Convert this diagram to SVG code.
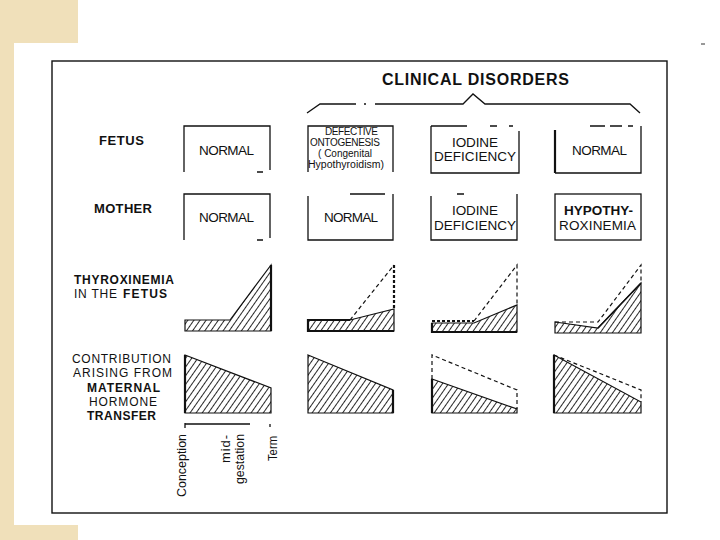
<svg xmlns="http://www.w3.org/2000/svg" width="720" height="540" viewBox="0 0 720 540">
<style>
  text { font-family: "Liberation Sans", Arial, sans-serif; fill: #111; }
  .lbl { font-size: 13px; font-weight: bold; }
  .lbs { font-size: 12px; }
  .b { font-weight: bold; }
  .box { font-size: 13.5px; }
  .sm { font-size: 10px; }
  .ax { font-size: 13px; }
  .edge { fill: none; stroke: #111; stroke-width: 1.3; }
  .thick { fill: none; stroke: #111; stroke-width: 2.2; }
  .dash { fill: none; stroke: #111; stroke-width: 1.2; stroke-dasharray: 4 3; }
  .dashT { fill: none; stroke: #111; stroke-width: 2.2; stroke-dasharray: 3 2; }
  .hatch { fill: url(#hatch); stroke: #111; stroke-width: 1.2; }
</style>
<defs>
  <pattern id="hatch" patternUnits="userSpaceOnUse" width="5" height="5" patternTransform="rotate(35)">
    <line x1="2.5" y1="0" x2="2.5" y2="5" stroke="#111" stroke-width="0.9"/>
  </pattern>
</defs>
<rect x="0" y="0" width="720" height="540" fill="#ffffff"/>
<g id="background" fill="#f0e0ba">
  <rect x="0" y="0" width="78" height="43"/>
  <rect x="0" y="0" width="14" height="540"/>
  <rect x="0" y="525" width="78" height="15"/>
</g>
<line x1="701" y1="44" x2="705" y2="44" stroke="#333" stroke-width="1"/>
<rect x="52" y="61" width="615" height="452" fill="none" stroke="#111" stroke-width="1.4"/>

<g id="title">
  <text x="382" y="85" font-size="16" font-weight="bold" textLength="187" lengthAdjust="spacing">CLINICAL DISORDERS</text>
</g>

<g id="connectors">
  <path class="edge" d="M307,113 L320,104 L356,104 M375,104 L463,104 L473,94 L485,104 L630,104 L640,113"/>
  <line x1="364" y1="104" x2="366" y2="104" stroke="#111" stroke-width="1.3"/>
  <path class="edge" d="M185,424 L250,424 M185,423 L185,428"/>
  <line x1="270" y1="424" x2="270" y2="427" stroke="#111" stroke-width="1.3"/>
</g>

<g id="label-fetus"><text class="lbl" x="99" y="145" textLength="45" lengthAdjust="spacing">FETUS</text></g>
<g id="label-mother"><text class="lbl" x="94" y="213" textLength="58" lengthAdjust="spacing">MOTHER</text></g>
<g id="label-thyroxinemia">
  <text class="lbs b" x="74" y="284" textLength="100" lengthAdjust="spacing">THYROXINEMIA</text>
  <text class="lbs" x="74" y="298" textLength="43" lengthAdjust="spacing">IN THE</text>
  <text class="lbs b" x="123" y="298" textLength="44" lengthAdjust="spacing">FETUS</text>
</g>
<g id="label-contribution">
  <text class="lbs" x="72" y="363" textLength="99" lengthAdjust="spacing">CONTRIBUTION</text>
  <text class="lbs" x="73" y="377" textLength="99" lengthAdjust="spacing">ARISING FROM</text>
  <text class="lbs b" x="87" y="391.5" textLength="73" lengthAdjust="spacing">MATERNAL</text>
  <text class="lbs" x="89" y="405.5" textLength="68" lengthAdjust="spacing">HORMONE</text>
  <text class="lbs b" x="87" y="420" textLength="69" lengthAdjust="spacing">TRANSFER</text>
</g>

<!-- Row 1: fetus -->
<g id="fetus-normal-1">
  <path class="edge" d="M184,172 L184,126 L270,126 L270,170 M257,172 L263,172"/>
  <text class="box" x="199" y="155" textLength="55" lengthAdjust="spacing">NORMAL</text>
</g>
<g id="fetus-defective">
  <path class="edge" d="M308,172 L308,126 L393,126 L393,172"/>
  <text class="sm" x="325" y="135" textLength="53" lengthAdjust="spacing">DEFECTIVE</text>
  <text class="sm" x="310" y="146" textLength="70" lengthAdjust="spacing">ONTOGENESIS</text>
  <text class="sm" x="318" y="157" textLength="54" lengthAdjust="spacing">( Congenital</text>
  <text class="sm" x="308" y="167.5" textLength="76" lengthAdjust="spacingAndGlyphs">Hypothyroidism)</text>
</g>
<g id="fetus-iodine">
  <path class="edge" d="M431,126 L467,126 M490,126 L497,126 M509,126 L513,126 M431,126 L431,173 L519,173 L519,131"/>
  <text class="box" x="452" y="147" font-size="13" textLength="46" lengthAdjust="spacing">IODINE</text>
  <text class="box" x="434" y="161" font-size="13" textLength="82" lengthAdjust="spacing">DEFICIENCY</text>
</g>
<g id="fetus-normal-4">
  <path class="edge" d="M590,126 L605,126 M610,126 L622,126 M628,126 L633,126 M641,126 L641,173 L555,173"/>
  <path class="thick" d="M555,130 L555,173"/>
  <text class="box" x="572" y="155" textLength="55" lengthAdjust="spacing">NORMAL</text>
</g>

<!-- Row 2: mother -->
<g id="mother-normal-1">
  <path class="edge" d="M184,240 L184,194 L270,194 L270,238 M257,240 L263,240"/>
  <text class="box" x="199" y="222" textLength="55" lengthAdjust="spacing">NORMAL</text>
</g>
<g id="mother-normal-2">
  <path class="edge" d="M350,194 L385,194 M308,196 L308,240 L393,240 L393,194"/>
  <text class="box" x="324" y="222" textLength="54" lengthAdjust="spacing">NORMAL</text>
</g>
<g id="mother-iodine">
  <path class="edge" d="M457,194 L464,194 M431,196 L431,240 L517,240 L517,194"/>
  <text class="box" x="452" y="215" font-size="13" textLength="46" lengthAdjust="spacing">IODINE</text>
  <text class="box" x="434" y="230" font-size="13" textLength="82" lengthAdjust="spacing">DEFICIENCY</text>
</g>
<g id="mother-hypothyroxinemia">
  <rect class="edge" x="555" y="194" width="86" height="46"/>
  <text class="box b" x="564" y="215" font-size="13" textLength="69" lengthAdjust="spacing">HYPOTHY-</text>
  <text class="box" x="559" y="230" font-size="13" textLength="77" lengthAdjust="spacing">ROXINEMIA</text>
</g>

<!-- Row 3: thyroxinemia graphs -->
<g id="thyro-1">
  <polygon class="hatch" points="185,320 230,320 271,265 271,331 185,331"/>
  <path class="thick" d="M271,265 L271,331"/>
</g>
<g id="thyro-2">
  <polygon class="hatch" points="308,320 350,320 394,309 394,331 308,331"/>
  <path class="thick" d="M350,320 L308,320 L308,331 L394,331"/>
  <path class="dash" d="M350,320 L394,265"/>
  <path class="dashT" d="M394,265 L394,309"/>
</g>
<g id="thyro-3">
  <polygon class="hatch" points="432,323 474,323 517,305 517,332 432,332"/>
  <path class="thick" d="M432,323 L432,332 L517,332"/>
  <path class="dashT" d="M432,321 L474,321"/>
  <path class="dash" d="M474,321 L517,265 L517,305"/>
</g>
<g id="thyro-4">
  <polygon class="hatch" points="555,322 598,328 641,283 641,333 555,333"/>
  <path class="dash" d="M555,322 L598,322 L641,265 L641,283"/>
  <path class="edge" d="M598,328 L641,283"/>
</g>

<!-- Row 4: maternal contribution graphs -->
<g id="contrib-1">
  <polygon class="hatch" points="185,355 271,388 271,413 185,413"/>
  <path class="thick" d="M185,355 L185,413"/>
</g>
<g id="contrib-2">
  <polygon class="hatch" points="308,355 393,390 393,413 308,413"/>
  <path class="thick" d="M393,390 L393,413"/>
</g>
<g id="contrib-3">
  <polygon class="hatch" points="432,379 517,409 517,413 432,413"/>
  <path class="thick" d="M432,379 L432,413"/>
  <path class="dash" d="M432,379 L432,355 L517,390 L517,409"/>
</g>
<g id="contrib-4">
  <polygon class="hatch" points="554,355 641,402 641,413 554,413"/>
  <path class="thick" d="M554,355 L554,413"/>
  <path class="dash" d="M554,355 L641,390 L641,402"/>
</g>

<g id="axis-labels">
  <text class="ax" transform="translate(186,497) rotate(-90)" textLength="63" lengthAdjust="spacingAndGlyphs">Conception</text>
  <text class="ax" transform="translate(230,463) rotate(-90)" textLength="28" lengthAdjust="spacing">mid-</text>
  <text class="ax" transform="translate(244,484) rotate(-90)" textLength="50" lengthAdjust="spacingAndGlyphs">gestation</text>
  <text class="ax" transform="translate(277,461) rotate(-90)" textLength="25" lengthAdjust="spacingAndGlyphs">Term</text>
</g>
</svg>
